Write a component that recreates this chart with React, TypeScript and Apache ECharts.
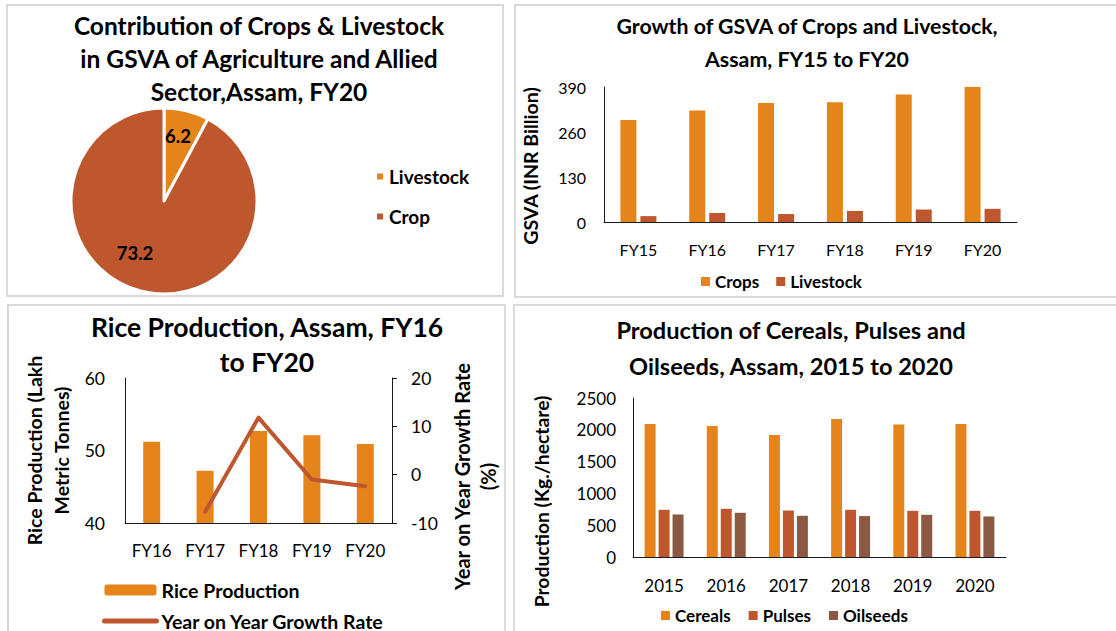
import React, { useEffect, useRef } from "react";
import * as echarts from "echarts";

// ---- Data ----
const pieCategories = ["Livestock", "Crop"];
const pieValues = [6.2, 73.2];

const gsvaYears = ["FY15", "FY16", "FY17", "FY18", "FY19", "FY20"];
const gsvaCrops = [295, 322, 344, 346, 368, 390];
const gsvaLivestock = [17, 26, 23, 32, 36, 38];

const riceYears = ["FY16", "FY17", "FY18", "FY19", "FY20"];
const riceProduction = [51.2, 47.2, 52.7, 52.1, 50.9];
const riceGrowth = [null, -7.7, 11.8, -1.0, -2.4];

const prodYears = ["2015", "2016", "2017", "2018", "2019", "2020"];
const cereals = [2090, 2060, 1920, 2170, 2085, 2090];
const pulses = [742, 758, 731, 742, 726, 726];
const oilseeds = [669, 695, 648, 643, 664, 637];

// ---- Styles ----
const FONT = "Lato, 'Open Sans', sans-serif";
const ORANGE = "#E5841A";
const RUST = "#BF572E";
const BROWN = "#8B5841";
const TXT = "#000000";
const AX = "#1a1a1a";
const BORDER = "#d9d9d9";

const LIVESTOCK_BAR = "Livestock (GSVA)";

export default function App() {
  const ref = useRef<HTMLDivElement>(null);

  useEffect(() => {
    if (!ref.current) return;
    const chart = echarts.init(ref.current, undefined, { renderer: "svg" });

    const titleStyle = (size: number, lh: number) => ({
      fontFamily: FONT,
      fontSize: size,
      fontWeight: "bold" as const,
      lineHeight: lh,
      color: TXT,
    });
    const axisLabel = (size: number, margin: number) => ({
      fontFamily: FONT,
      fontSize: size,
      color: TXT,
      margin,
      formatter: (v: any) => String(v),
    });
    const nameStyle = (size: number, lh: number, padding: number[]) => ({
      fontFamily: FONT,
      fontSize: size,
      fontWeight: "bold" as const,
      color: TXT,
      lineHeight: lh,
      padding,
    });
    const legendText = (size: number) => ({
      fontFamily: FONT,
      fontSize: size,
      fontWeight: "bold" as const,
      color: TXT,
    });
    const axisLine = () => ({ show: true, onZero: false, lineStyle: { color: AX, width: 1 } });
    const border = (x: number, y: number, w: number, h: number) => ({
      type: "rect",
      shape: { x, y, width: w, height: h },
      style: { fill: "none", stroke: BORDER, lineWidth: 2 },
      silent: true,
    });

    const option: any = {
      animation: false,
      backgroundColor: "#ffffff",
      graphic: [
        border(7, 5, 496, 291),
        border(515, 5, 610, 292),
        border(8, 305, 497, 340),
        border(514, 305, 610, 340),
      ],
      title: [
        {
          text: "Contribution of Crops & Livestock\nin GSVA of Agriculture and Allied\nSector,Assam, FY20",
          left: 259, top: 9, padding: 0, textAlign: "center",
          textStyle: titleStyle(24.5, 33),
        },
        {
          text: "Growth of GSVA of Crops and Livestock,\nAssam, FY15 to FY20",
          left: 807, top: 9, padding: 0, textAlign: "center",
          textStyle: titleStyle(21.3, 33),
        },
        {
          text: "Rice Production, Assam, FY16\nto FY20",
          left: 267, top: 309, padding: 0, textAlign: "center",
          textStyle: titleStyle(26.5, 35),
        },
        {
          text: "Production of Cereals, Pulses and\nOilseeds, Assam, 2015 to 2020",
          left: 791, top: 312, padding: 0, textAlign: "center",
          textStyle: titleStyle(23.6, 36),
        },
      ],
      legend: [
        {
          data: pieCategories, orient: "vertical", left: 375, top: 167, padding: 0,
          itemWidth: 8, itemHeight: 8, itemGap: 21, icon: "rect",
          textStyle: legendText(19), selectedMode: false,
        },
        {
          data: ["Crops", LIVESTOCK_BAR], left: 701, top: 273, padding: 0,
          itemWidth: 9, itemHeight: 9, itemGap: 17, icon: "rect",
          formatter: (n: string) => (n === LIVESTOCK_BAR ? "Livestock" : n),
          textStyle: legendText(17), selectedMode: false,
        },
        {
          data: [
            { name: "Rice Production" },
            { name: "Year on Year Growth Rate", itemStyle: { opacity: 0 }, lineStyle: { width: 5, cap: "round" } },
          ],
          orient: "vertical", left: 102, top: 580, padding: 0, height: 120,
          itemWidth: 52, itemHeight: 11, itemGap: 11,
          lineStyle: { width: 5, cap: "round" },
          textStyle: legendText(19.5), selectedMode: false,
        },
        {
          data: ["Cereals", "Pulses", "Oilseeds"], left: 661, top: 607, padding: 0,
          itemWidth: 9, itemHeight: 9, itemGap: 18, icon: "rect",
          textStyle: legendText(17), selectedMode: false,
        },
      ],
      grid: [
        { left: 604, top: 87, width: 413, height: 135 },
        { left: 125, top: 378, width: 267, height: 145 },
        { left: 633, top: 398, width: 373, height: 159 },
      ],
      xAxis: [
        {
          gridIndex: 0, type: "category", data: gsvaYears,
          axisLine: axisLine(), axisTick: { show: false }, axisLabel: axisLabel(16, 19),
        },
        {
          gridIndex: 1, type: "category", data: riceYears,
          axisLine: axisLine(), axisTick: { show: false }, axisLabel: axisLabel(17, 19),
        },
        {
          gridIndex: 2, type: "category", data: prodYears,
          axisLine: axisLine(), axisTick: { show: false }, axisLabel: axisLabel(17, 20),
        },
      ],
      yAxis: [
        {
          gridIndex: 0, type: "value", min: 0, max: 390, interval: 130,
          axisLine: axisLine(), axisTick: { show: false }, splitLine: { show: false },
          axisLabel: axisLabel(16, 18),
          name: "GSVA (INR Billion)", nameLocation: "middle", nameGap: 63,
          nameTextStyle: nameStyle(19.5, 22, [0, 23, 0, 0]),
        },
        {
          gridIndex: 1, type: "value", min: 40, max: 60, interval: 10,
          axisLine: axisLine(), axisTick: { show: false }, splitLine: { show: false },
          axisLabel: axisLabel(17.5, 20),
          name: "Rice Production (Lakh\nMetric Tonnes)", nameLocation: "middle", nameGap: 50,
          nameTextStyle: nameStyle(19.5, 27, [0, 0, 0, 0]),
        },
        {
          gridIndex: 1, type: "value", position: "right", min: -10, max: 20, interval: 10,
          axisLine: axisLine(), axisTick: { show: true, inside: false, length: 5, lineStyle: { color: AX } },
          splitLine: { show: false },
          axisLabel: axisLabel(17.5, 19),
          name: "Year on Year Growth Rate\n(%)", nameLocation: "middle", nameGap: 57, nameRotate: 90,
          nameTextStyle: nameStyle(20, 26, [0, 52, 0, 0]),
        },
        {
          gridIndex: 2, type: "value", min: 0, max: 2500, interval: 500,
          axisLine: axisLine(), axisTick: { show: false }, splitLine: { show: false },
          axisLabel: axisLabel(17, 17),
          name: "Production (Kg./hectare)", nameLocation: "middle", nameGap: 81,
          nameTextStyle: nameStyle(19.3, 22, [0, 48, 0, 0]),
        },
      ],
      series: [
        {
          type: "pie", name: "Contribution", center: [164, 201], radius: 93,
          startAngle: 90, clockwise: true,
          data: pieCategories.map((n, i) => ({
            name: n, value: pieValues[i],
            itemStyle: { color: i === 0 ? ORANGE : RUST },
          })),
          itemStyle: { borderColor: "#ffffff", borderWidth: 3 },
          label: {
            show: true, position: "inside", formatter: "{c}",
            fontFamily: FONT, fontSize: 18.5, fontWeight: "bold", color: TXT,
          },
          labelLine: { show: false },
          labelLayout: (p: any) => (p.dataIndex === 0 ? { dx: 2, dy: -17 } : { dx: -17, dy: 4 }),
          emphasis: { disabled: true },
        },
        {
          type: "bar", name: "Crops", xAxisIndex: 0, yAxisIndex: 0, data: gsvaCrops,
          barWidth: 16, barGap: "25%", itemStyle: { color: ORANGE },
        },
        {
          type: "bar", name: LIVESTOCK_BAR, xAxisIndex: 0, yAxisIndex: 0, data: gsvaLivestock,
          barWidth: 16, barGap: "25%", itemStyle: { color: RUST },
        },
        {
          type: "bar", name: "Rice Production", xAxisIndex: 1, yAxisIndex: 1, data: riceProduction,
          barWidth: 17, itemStyle: { color: ORANGE },
        },
        {
          type: "line", name: "Year on Year Growth Rate", xAxisIndex: 1, yAxisIndex: 2, data: riceGrowth,
          symbol: "none", connectNulls: false,
          lineStyle: { color: RUST, width: 4, cap: "round", join: "round" },
          itemStyle: { color: RUST },
        },
        {
          type: "bar", name: "Cereals", xAxisIndex: 2, yAxisIndex: 3, data: cereals,
          barWidth: 11, barGap: "27%", itemStyle: { color: ORANGE },
        },
        {
          type: "bar", name: "Pulses", xAxisIndex: 2, yAxisIndex: 3, data: pulses,
          barWidth: 11, barGap: "27%", itemStyle: { color: RUST },
        },
        {
          type: "bar", name: "Oilseeds", xAxisIndex: 2, yAxisIndex: 3, data: oilseeds,
          barWidth: 11, barGap: "27%", itemStyle: { color: BROWN },
        },
      ],
    };

    chart.setOption(option);
    return () => chart.dispose();
  }, []);

  return (
    <div
      ref={ref}
      style={{ position: "fixed", left: 0, top: 0, width: 1116, height: 631, background: "#fff" }}
    />
  );
}
